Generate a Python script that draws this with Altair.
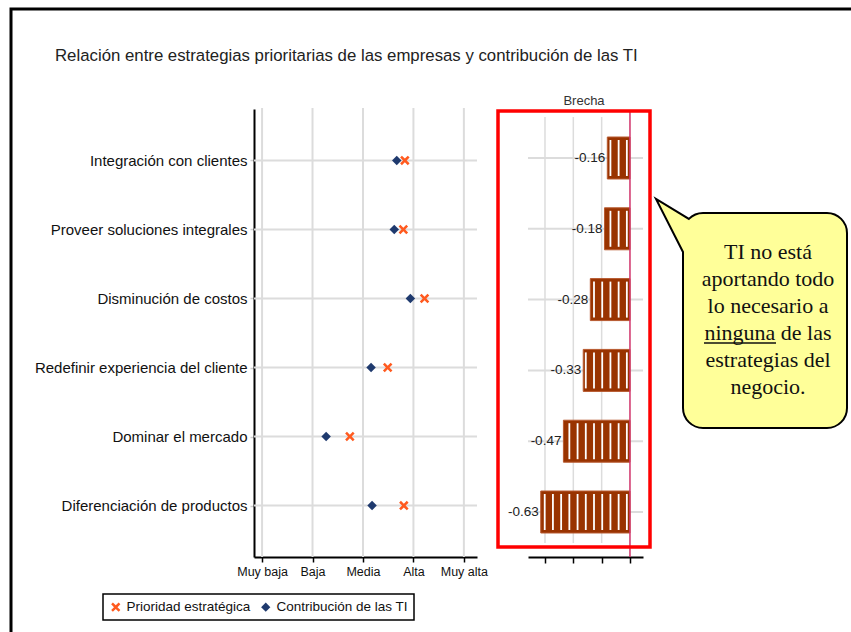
import json
import altair as alt
import pandas as pd

# Strategic priorities vs. IT contribution (1 = Muy baja ... 5 = Muy alta)
categorias = [
    "Integración con clientes",
    "Proveer soluciones integrales",
    "Disminución de costos",
    "Redefinir experiencia del cliente",
    "Dominar el mercado",
    "Diferenciación de productos",
]
prioridad = [3.83, 3.80, 4.22, 3.49, 2.74, 3.81]
contribucion = [3.67, 3.62, 3.94, 3.16, 2.27, 3.18]
brecha = [-0.16, -0.18, -0.28, -0.33, -0.47, -0.63]

niveles = ["Muy baja", "Baja", "Media", "Alta", "Muy alta"]
ticks_nivel = [1, 2, 3, 4, 5]
ticks_brecha = [-0.6, -0.4, -0.2, 0.0]
grid_brecha = [-0.6, -0.4, -0.2]

series = ["Prioridad estratégica", "Contribución de las TI"]
nota = ["TI no está", "aportando todo", "lo necesario a",
        "ninguna de las", "estrategias del", "negocio."]

titulo = "Relación entre estrategias prioritarias de las empresas y contribución de las TI"

FONT = "Liberation Sans"
OX = 254  # x of the left axis; plot origin

# ---------- tables ----------
puntos = pd.DataFrame({
    "estrategia": categorias * 2,
    "serie": [series[1]] * len(categorias) + [series[0]] * len(categorias),
    "valor": contribucion + prioridad,
})
filas = pd.DataFrame({"estrategia": categorias})
gap = pd.DataFrame({
    "estrategia": categorias,
    "brecha": brecha,
    "etiqueta": [f"{v:.2f}" for v in brecha],
})
one = pd.DataFrame({"k": [0]})

# ---------- left panel: dot plot ----------
xL = alt.Scale(domain=[0.84, 5.26], range=[0, 223], nice=False, zero=False)
yL = alt.Scale(type="point", domain=categorias, range=[109, 557], padding=0.745)
axis_xL = alt.Axis(
    orient="bottom", values=ticks_nivel, title=None, grid=False,
    labelExpr=f"{json.dumps(niveles)}[datum.value - 1]",
    domainColor="black", domainWidth=2, tickColor="black", tickSize=5,
    tickWidth=1.5, labelFont=FONT, labelFontSize=12.5, labelColor="#111",
    labelPadding=3,
)
axis_yL = alt.Axis(
    orient="left", title=None, grid=False, domainColor="black", domainWidth=2,
    tickColor="#cfcfcf", tickSize=4, tickWidth=1.5, labelFont=FONT,
    labelFontSize=15, labelColor="#111", labelPadding=3, labelLimit=400,
)

grid_v_left = alt.Chart(pd.DataFrame({"t": ticks_nivel})).mark_rule(
    color="#dcdcdc", strokeWidth=2
).encode(
    x=alt.X("t:Q", scale=xL, axis=axis_xL),
    y=alt.value(108), y2=alt.value(557),
)
grid_h_left = alt.Chart(filas).mark_rule(color="#dcdcdc", strokeWidth=2).encode(
    y=alt.Y("estrategia:N", scale=yL, axis=axis_yL, sort=categorias),
    x=alt.value(0), x2=alt.value(223),
)

x_shape = ("M-1,-0.62L-0.62,-1L0,-0.38L0.62,-1L1,-0.62L0.38,0L1,0.62"
           "L0.62,1L0,0.38L-0.62,1L-1,0.62L-0.38,0Z")
leyenda = alt.Legend(title=None, orient="none", legendX=-151, legendY=594,
                     direction="horizontal", strokeColor="black", padding=6,
                     labelFont=FONT, labelFontSize=13.5, labelColor="#111",
                     symbolSize=85, columnPadding=8, fillColor="white",
                     labelOffset=4, labelLimit=400)
dots = alt.Chart(puntos).mark_point(filled=True, opacity=1, size=90).encode(
    x=alt.X("valor:Q", scale=xL, axis=axis_xL),
    y=alt.Y("estrategia:N", scale=yL, axis=axis_yL, sort=categorias),
    color=alt.Color("serie:N", scale=alt.Scale(domain=series, range=["#ff5a1f", "#1f3a6e"]),
                    legend=leyenda),
    shape=alt.Shape("serie:N", scale=alt.Scale(domain=series, range=[x_shape, "diamond"]),
                    legend=leyenda),
)
left = alt.layer(grid_v_left, grid_h_left, dots)

# ---------- right panel: gap bars ----------
xR = alt.Scale(domain=[-0.72, 0.092], range=[274, 389], nice=False, zero=False)
yR = alt.Scale(type="band", domain=categorias, range=[122.6, 547.4],
               paddingInner=0.407, paddingOuter=0.2035)
axis_xR = alt.Axis(
    orient="bottom", values=ticks_brecha, labels=False, title=None, grid=False,
    domainColor="black", domainWidth=2, tickColor="black", tickSize=6, tickWidth=1.5,
)

grid_v_right = alt.Chart(pd.DataFrame({"t": grid_brecha})).mark_rule(
    color="#dcdcdc", strokeWidth=1.5
).encode(
    x=alt.X("t:Q", scale=xR, axis=axis_xR),
    y=alt.value(117), y2=alt.value(543),
)
grid_h_right = alt.Chart(filas).mark_rule(color="#dcdcdc", strokeWidth=2).encode(
    y=alt.Y("estrategia:N", scale=yR, axis=None, sort=categorias),
    x=alt.value(274), x2=alt.value(389),
)
bars = alt.Chart(gap).mark_bar(
    color="#993300", stroke="#b85a30", strokeWidth=1
).encode(
    x=alt.X("brecha:Q", scale=xR, axis=axis_xR),
    x2=alt.datum(0),
    y=alt.Y("estrategia:N", scale=yR, axis=None, sort=categorias),
)
stripes = alt.Chart(gap).transform_calculate(
    s="sequence(-0.022, datum.brecha + 0.012, -0.058)"
).transform_flatten(["s"]).mark_tick(
    orient="vertical", color="white", thickness=1.8, size=36, opacity=1
).encode(
    x=alt.X("s:Q", scale=xR, axis=axis_xR),
    y=alt.Y("estrategia:N", scale=yR, axis=None, sort=categorias),
)
zero_line = alt.Chart(pd.DataFrame({"t": [0.0]})).mark_rule(
    color="#d0336a", strokeWidth=1.5
).encode(
    x=alt.X("t:Q", scale=xR, axis=axis_xR),
    y=alt.value(112), y2=alt.value(557),
)
bar_labels = alt.Chart(gap).mark_text(
    align="right", baseline="middle", dx=-2, font=FONT, fontSize=13.5, color="#222"
).encode(
    x=alt.X("brecha:Q", scale=xR, axis=axis_xR),
    y=alt.Y("estrategia:N", scale=yR, axis=None, sort=categorias),
    text="etiqueta:N",
)
right = alt.layer(grid_v_right, grid_h_right, bars, stripes, zero_line, bar_labels)

# ---------- annotations ----------
frame = alt.Chart(one).mark_rect(fillOpacity=0, stroke="#ff0000", strokeWidth=3.5).encode(
    x=alt.value(498 - OX), x2=alt.value(650 - OX), y=alt.value(111), y2=alt.value(547)
)
border = alt.Chart(one).mark_rect(fillOpacity=0, stroke="black", strokeWidth=3).encode(
    x=alt.value(11 - OX), x2=alt.value(900 - OX), y=alt.value(9), y2=alt.value(700)
)
brecha_title = alt.Chart(one).mark_text(
    font=FONT, fontSize=13, color="#333", align="center", baseline="middle"
).encode(x=alt.value(584 - OX), y=alt.value(101), text=alt.value("Brecha"))
main_title = alt.Chart(one).mark_text(
    font=FONT, fontSize=16.8, color="#222", align="left", baseline="middle"
).encode(x=alt.value(55 - OX), y=alt.value(56), text=alt.value(titulo))

# callout bubble (outline in pixels around its centre)
bubble_path = (
    "M-82,-68L-109,-121L-76.1,-101.1A20,20 0 0 1 -62,-107L62,-107"
    "A20,20 0 0 1 82,-87L82,88A20,20 0 0 1 62,108L-62,108"
    "A20,20 0 0 1 -82,88Z"
)
bubble = alt.Chart(one).mark_point(
    shape=bubble_path, size=4, filled=True, fill="#ffff99", stroke="black",
    strokeWidth=2, opacity=1, fillOpacity=1,
).encode(x=alt.value(765 - OX), y=alt.value(320))
bubble_text = alt.Chart(one).mark_text(
    font="Liberation Serif", fontSize=22, color="#111", align="center",
    baseline="middle", lineHeight=27,
).encode(x=alt.value(768 - OX), y=alt.value(252), text=alt.value(nota))
underline = alt.Chart(one).mark_rule(color="#111", strokeWidth=1.5).encode(
    x=alt.value(704 - OX), x2=alt.value(776 - OX), y=alt.value(343)
)

chart = alt.layer(
    left, right, frame, bubble, bubble_text, underline, brecha_title, main_title, border
).resolve_scale(
    x="independent", y="independent"
).properties(
    width=851 - OX, height=557,
    padding={"left": OX, "top": 0, "right": 0, "bottom": 75},
    autosize=alt.AutoSizeParams(type="none"),
    background="white",
).configure_view(stroke=None).configure_legend(strokeWidth=1.5)

chart.save("out.html", embed_options={"renderer": "svg", "actions": False})
